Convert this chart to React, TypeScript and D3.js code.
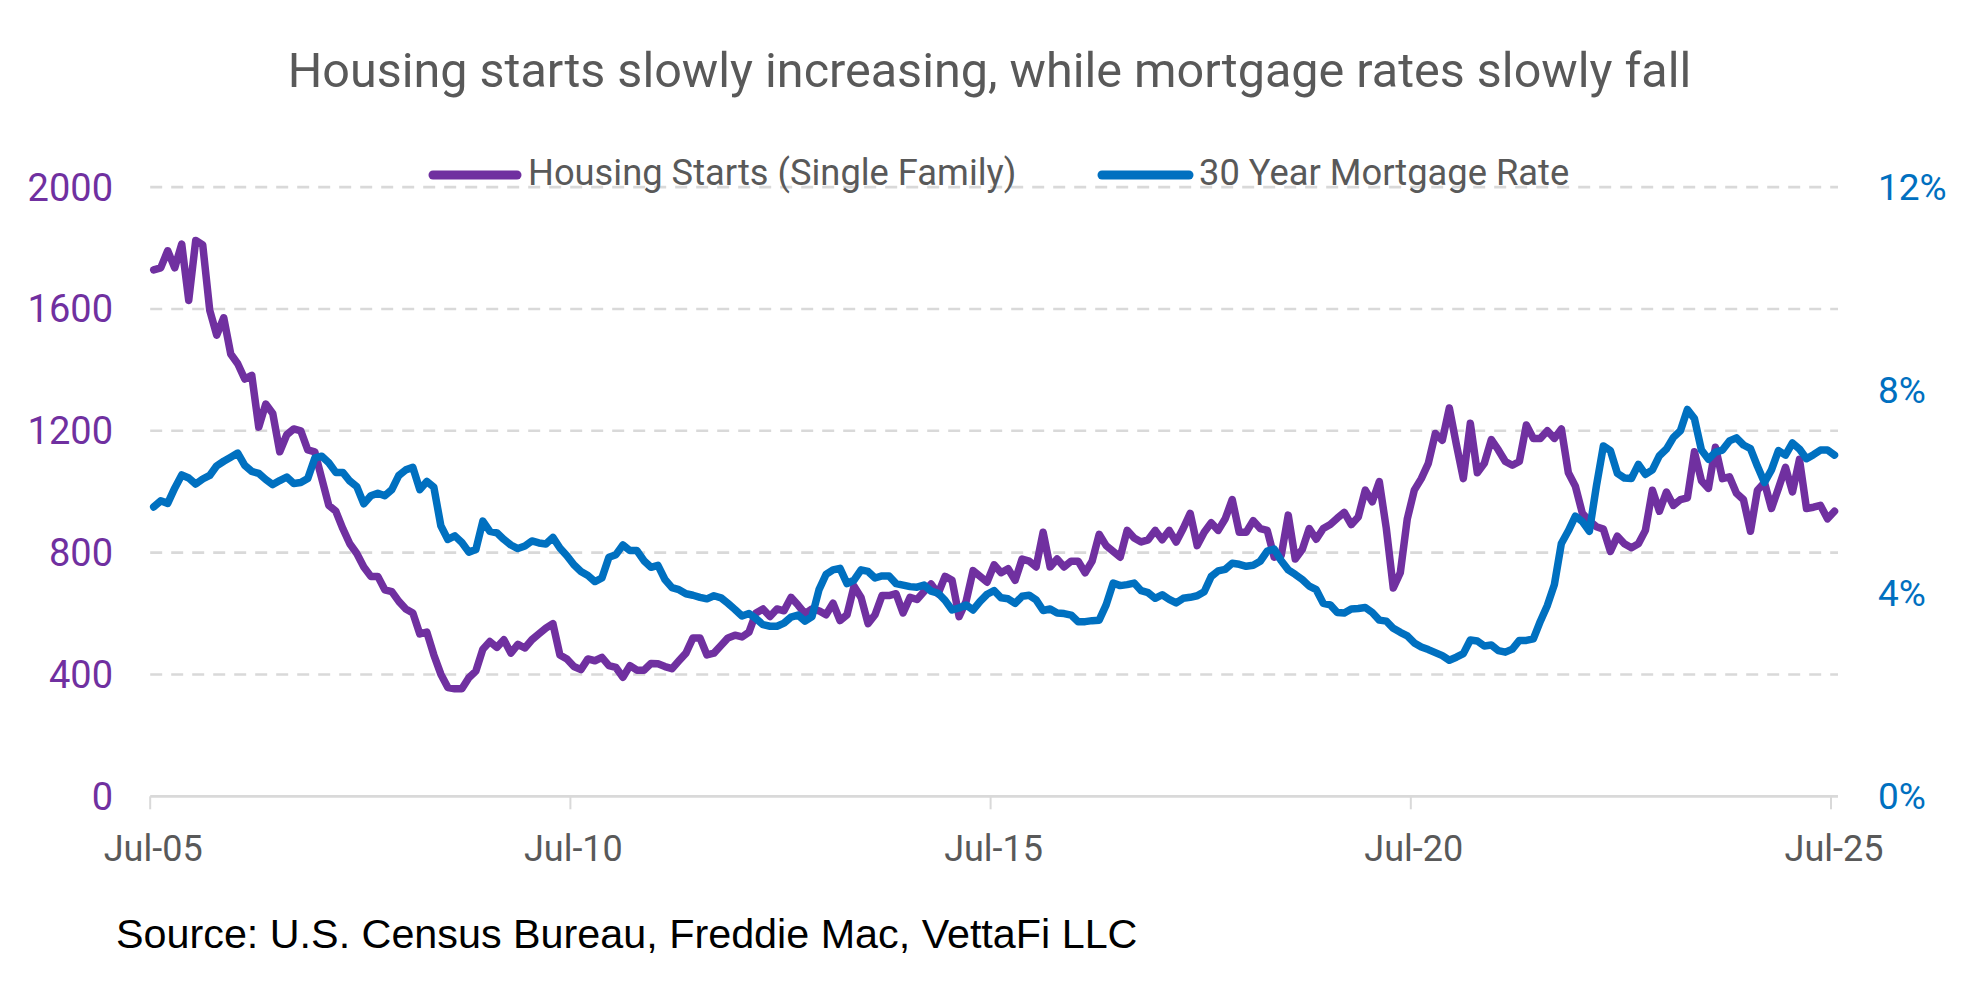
import * as React from "react";
import { scaleLinear, line, curveLinear } from "d3";

// monthly series, Jul-05 .. Jul-25 (241 months)
const startLabel = "Jul-05";

// single family housing starts, thousands (SAAR)
const housingStarts: number[] = [
  1728, 1735, 1791, 1735, 1813, 1628, // 2005 H2
  1825, 1810, 1596, 1514, 1571, 1452, 1420, 1370, 1382, 1212, 1288, 1257, // 2006
  1131, 1187, 1206, 1200, 1137, 1131, 1043, 955, 936, 879, 829, 797, // 2007
  753, 722, 722, 678, 672, 640, 615, 602, 533, 539, 464, 401, // 2008
  357, 353, 353, 389, 411, 483, 508, 489, 514, 470, 499, 487, // 2009
  514, 533, 552, 567, 464, 451, 426, 416, 451, 445, 456, 429, // 2010
  423, 391, 429, 414, 414, 436, 435, 426, 419, 445, 470, 520, // 2011
  520, 464, 470, 495, 520, 529, 523, 539, 602, 615, 590, 615, // 2012
  609, 653, 628, 600, 615, 609, 596, 634, 577, 596, 690, 653, // 2013
  567, 596, 659, 659, 665, 602, 653, 646, 672, 697, 665, 722, // 2014
  709, 590, 640, 741, 722, 703, 760, 734, 747, 709, 779, 772, // 2015
  753, 867, 753, 779, 753, 772, 772, 734, 772, 860, 823, 804, // 2016
  785, 873, 848, 835, 842, 873, 842, 873, 835, 879, 929, 823, // 2017
  867, 898, 873, 911, 974, 867, 867, 905, 879, 873, 785, 791, // 2018
  923, 779, 810, 879, 844, 879, 892, 913, 932, 892, 917, 1005, // 2019
  967, 1033, 880, 684, 734, 911, 1005, 1043, 1093, 1191, 1169, 1275, // 2020
  1156, 1043, 1225, 1062, 1093, 1171, 1137, 1099, 1087, 1099, 1219, 1175, // 2021
  1175, 1200, 1175, 1206, 1062, 1018, 929, 904, 885, 877, 804, 854, // 2022
  829, 816, 829, 873, 1005, 936, 999, 955, 974, 980, 1131, 1036, // 2023
  1011, 1146, 1043, 1049, 995, 974, 870, 1005, 1030, 945, 1011, 1080, // 2024
  999, 1106, 945, 949, 955, 911, 936, // 2025
];

// 30 year fixed mortgage rate, monthly average, %
const mortgageRate: number[] = [
  5.7, 5.82, 5.77, 6.07, 6.33, 6.27,
  6.15, 6.25, 6.32, 6.51, 6.6, 6.68, 6.76, 6.52, 6.4, 6.36, 6.24, 6.14,
  6.22, 6.29, 6.16, 6.18, 6.26, 6.66, 6.7, 6.57, 6.38, 6.38, 6.21, 6.1,
  5.76, 5.92, 5.97, 5.92, 6.04, 6.32, 6.43, 6.48, 6.04, 6.2, 6.09, 5.33,
  5.06, 5.13, 5.0, 4.81, 4.86, 5.42, 5.22, 5.19, 5.06, 4.95, 4.88, 4.93,
  5.03, 4.99, 4.97, 5.1, 4.89, 4.74, 4.56, 4.43, 4.35, 4.23, 4.3, 4.71,
  4.76, 4.95, 4.84, 4.84, 4.64, 4.51, 4.55, 4.27, 4.11, 4.07, 3.99, 3.96,
  3.92, 3.89, 3.95, 3.91, 3.8, 3.68, 3.55, 3.6, 3.5, 3.38, 3.35, 3.35,
  3.41, 3.53, 3.57, 3.45, 3.54, 4.07, 4.37, 4.46, 4.49, 4.19, 4.26, 4.46,
  4.43, 4.3, 4.34, 4.34, 4.19, 4.16, 4.13, 4.12, 4.16, 4.04, 4.0, 3.86,
  3.67, 3.71, 3.77, 3.67, 3.84, 3.98, 4.05, 3.91, 3.89, 3.8, 3.94, 3.96,
  3.87, 3.66, 3.69, 3.61, 3.6, 3.57, 3.44, 3.44, 3.46, 3.47, 3.77, 4.2,
  4.15, 4.17, 4.2, 4.05, 4.01, 3.9, 3.97, 3.88, 3.81, 3.9, 3.92, 3.95,
  4.03, 4.33, 4.44, 4.47, 4.59, 4.57, 4.53, 4.55, 4.63, 4.83, 4.87, 4.64,
  4.46, 4.37, 4.27, 4.14, 4.07, 3.8, 3.77, 3.62, 3.61, 3.69, 3.7, 3.72,
  3.62, 3.47, 3.45, 3.31, 3.23, 3.16, 3.02, 2.94, 2.89, 2.83, 2.77, 2.68,
  2.74, 2.81, 3.08, 3.06, 2.96, 2.98, 2.87, 2.84, 2.9, 3.07, 3.07, 3.1,
  3.45, 3.76, 4.17, 4.98, 5.23, 5.52, 5.41, 5.22, 6.11, 6.9, 6.81, 6.36,
  6.27, 6.26, 6.54, 6.34, 6.43, 6.71, 6.84, 7.07, 7.2, 7.62, 7.44, 6.82,
  6.64, 6.78, 6.82, 7.0, 7.06, 6.92, 6.85, 6.5, 6.18, 6.43, 6.81, 6.72,
  6.96, 6.84, 6.65, 6.73, 6.82, 6.82, 6.72,
];

const xTickMonths = [0, 60, 120, 180, 240];
const xTickLabels = [startLabel, "Jul-10", "Jul-15", "Jul-20", "Jul-25"];
const leftTicks = [0, 400, 800, 1200, 1600, 2000];
const rightTicks = [0, 4, 8, 12];

const PURPLE = "#7030A0";
const BLUE = "#0070C0";
const GREY_TEXT = "#595959";
const GRID = "#D9D9D9";
const FONT = "Roboto, 'Noto Sans', sans-serif";

function App() {
  const width = 1979;
  const height = 990;
  const left = 150.2;
  const right = 1838;
  const top = 187.1;
  const bottom = 796.3;

  // one slot per month, points sit in the middle of their slot
  const x = scaleLinear().domain([0, housingStarts.length]).range([left, right]);
  const yL = scaleLinear().domain([0, 2000]).range([bottom, top]);
  const yR = scaleLinear().domain([0, 12]).range([bottom, top]);

  const housingLine = line<number>()
    .x((d, i) => x(i + 0.5))
    .y((d) => yL(d))
    .curve(curveLinear);
  const rateLine = line<number>()
    .x((d, i) => x(i + 0.5))
    .y((d) => yR(d))
    .curve(curveLinear);

  return (
    <div style={{ position: "absolute", left: 0, top: 0 }}>
      <svg width={width} height={height} style={{ display: "block", background: "#fff" }}>
        {/* title */}
        <text x={989.5} y={86.5} textAnchor="middle" fontFamily={FONT} fontSize={48.5} fill={GREY_TEXT}>
          Housing starts slowly increasing, while mortgage rates slowly fall
        </text>

        {/* gridlines */}
        {leftTicks
          .filter((t) => t > 0)
          .map((t) => (
            <line key={t} x1={left} x2={right} y1={yL(t)} y2={yL(t)} stroke={GRID} strokeWidth={2.6} strokeDasharray="12 9" />
          ))}

        {/* x axis */}
        <line x1={left} x2={right} y1={bottom} y2={bottom} stroke={GRID} strokeWidth={2.7} />
        {xTickMonths.map((m, i) => (
          <g key={m}>
            <line x1={x(m)} x2={x(m)} y1={bottom} y2={bottom + 13} stroke={GRID} strokeWidth={2} />
            <text x={x(m) + 3} y={861} textAnchor="middle" fontFamily={FONT} fontSize={36} fill={GREY_TEXT}>
              {xTickLabels[i]}
            </text>
          </g>
        ))}

        {/* left axis labels */}
        {leftTicks.map((t) => (
          <text key={t} x={113} y={yL(t) + 13.5} textAnchor="end" fontFamily={FONT} fontSize={38} fill={PURPLE}>
            {t}
          </text>
        ))}

        {/* right axis labels */}
        {rightTicks.map((t) => (
          <text key={t} x={1878} y={yR(t) + 13} textAnchor="start" fontFamily={FONT} fontSize={37} fill={BLUE}>
            {t + "%"}
          </text>
        ))}

        {/* series */}
        <path d={housingLine(housingStarts) || ""} fill="none" stroke={PURPLE} strokeWidth={7.5} strokeLinejoin="round" strokeLinecap="round" />
        <path d={rateLine(mortgageRate) || ""} fill="none" stroke={BLUE} strokeWidth={7.5} strokeLinejoin="round" strokeLinecap="round" />

        {/* legend */}
        <line x1={433} x2={517} y1={175} y2={175} stroke={PURPLE} strokeWidth={9} strokeLinecap="round" />
        <text x={528} y={185} fontFamily={FONT} fontSize={36.3} fill={GREY_TEXT}>
          Housing Starts (Single Family)
        </text>
        <line x1={1102} x2={1189} y1={175} y2={175} stroke={BLUE} strokeWidth={9} strokeLinecap="round" />
        <text x={1199} y={185} fontFamily={FONT} fontSize={36.3} fill={GREY_TEXT}>
          30 Year Mortgage Rate
        </text>

        {/* source */}
        <text x={116} y={948} fontFamily="'Liberation Sans', Arial, sans-serif" fontSize={41.3} fill="#000">
          Source: U.S. Census Bureau, Freddie Mac, VettaFi LLC
        </text>
      </svg>
    </div>
  );
}

export default App;
